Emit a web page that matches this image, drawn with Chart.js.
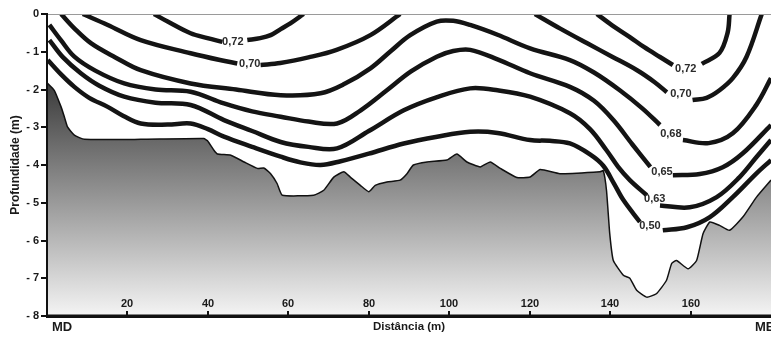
<!DOCTYPE html>
<html>
<head>
<meta charset="utf-8">
<script src="https://cdn.jsdelivr.net/npm/chart.js@4"></script>
<style>
  body { margin: 0; background: #fff; }
  #wrap { width: 771px; height: 340px; }
</style>
</head>
<body>
<div id="wrap"><canvas id="profile"></canvas></div>
<script>
// River bed (distance m, depth m)
const bed = [[0,-1.82],[1.8,-2.02],[3.5,-2.46],[4.3,-2.72],[5.1,-2.99],[6.8,-3.21],[9.3,-3.32],
  [23.3,-3.32],[39,-3.3],[39.9,-3.36],[41.5,-3.61],[42.4,-3.71],[45.7,-3.74],[49,-3.92],
  [52.3,-4.09],[53.9,-4.08],[55.6,-4.23],[57.2,-4.49],[58.5,-4.8],[66.3,-4.8],[68.8,-4.67],
  [71.3,-4.32],[73.8,-4.18],[75.4,-4.32],[77.9,-4.54],[80,-4.71],[81.6,-4.54],[84.5,-4.45],
  [87.8,-4.4],[89.5,-4.23],[91.1,-4.0],[94.5,-3.92],[99.4,-3.87],[101.9,-3.71],[104.4,-3.92],
  [107.7,-4.05],[110.2,-3.92],[112.7,-4.09],[116.8,-4.33],[120.1,-4.32],[122.6,-4.12],
  [127.5,-4.23],[137.5,-4.18],[138.3,-4.15],[139.1,-4.67],[139.9,-5.81],[140.8,-6.53],
  [143.3,-6.92],[144.9,-7.0],[146.6,-7.32],[149.1,-7.5],[151.5,-7.41],[154,-7.06],[155.3,-6.61],
  [156.5,-6.53],[159.4,-6.75],[161.5,-6.53],[163.1,-5.82],[164.8,-5.51],[167.2,-5.6],
  [169.7,-5.73],[173,-5.38],[176.4,-4.85],[180,-4.4]];

// Isolines; null = break where the label sits
const c72Left = [[26.6,0],[30,-0.2],[35.7,-0.51],[39.9,-0.64],[43.6,-0.74], null,
  [49.8,-0.69],[53,-0.64],[55.6,-0.56],[58.1,-0.4],[60.5,-0.25],[63.8,0]];
const c70Left = [[8.9,0],[15.1,-0.29],[23.3,-0.69],[35.7,-1.04],[43,-1.22],[47.3,-1.31], null,
  [53.1,-1.35],[58,-1.3],[65,-1.15],[72,-0.95],[80.4,-0.56],[87.8,0]];
const c72Right = [[136.7,0],[140.5,-0.3],[144.9,-0.61],[148.5,-0.88],[152.4,-1.14],[155.6,-1.35], null,
  [162.8,-1.32],[167.2,-1.03],[169.2,-0.5],[169.7,0]];
const c70Right = [[121.3,0],[127.5,-0.38],[134.2,-0.77],[140.5,-1.13],[146.7,-1.49],[151,-1.8],[154.1,-2.07], null,
  [160.5,-2.28],[164,-2.22],[167.2,-2.02],[170.5,-1.7],[173.9,-1.14],[177.7,0]];
const c68 = [[3.5,0],[6.8,-0.38],[11,-0.78],[17,-1.15],[23.3,-1.49],[35.7,-1.84],[47,-2.0],
  [58.1,-2.15],[68,-2.1],[74,-1.85],[80.4,-1.44],[85.5,-0.98],[90.3,-0.56],[96.9,-0.2],
  [101,-0.18],[105.2,-0.29],[112,-0.55],[120.1,-0.91],[130,-1.22],[136,-1.55],[142.4,-2.02],
  [148,-2.5],[152.4,-2.94], null, [158.1,-3.34],[164.5,-3.42],[170.5,-3.16],[176.4,-2.4],[180,-1.7]];
const c65 = [[0.6,-0.29],[3.5,-0.7],[6.8,-1.13],[12,-1.5],[19.2,-1.84],[27,-2.0],[35.7,-2.06],
  [44,-2.37],[51,-2.58],[58.1,-2.72],[65,-2.85],[72.1,-2.9],[78,-2.55],[84.5,-2.02],
  [90.5,-1.52],[96.9,-1.13],[101,-0.98],[105.2,-0.95],[112,-1.2],[120.1,-1.57],[130,-1.93],
  [136,-2.3],[140.8,-2.81],[145.5,-3.45],[150,-4.05], null, [155.6,-4.27],[162.3,-4.24],
  [168,-4.06],[173,-3.69],[180,-2.94]];
const c63 = [[0.6,-0.69],[4,-1.15],[8.4,-1.57],[13,-1.9],[19.2,-2.19],[27,-2.35],[35.7,-2.41],
  [44,-2.81],[51,-3.1],[58.1,-3.39],[65,-3.52],[72.1,-3.56],[80,-3.1],[88.7,-2.55],[97,-2.2],
  [105.2,-1.97],[112,-2.02],[120.1,-2.19],[130,-2.63],[135,-3.05],[139.1,-3.61],[142,-4.05],
  [144.9,-4.4],[149.1,-4.8], null, [152.4,-5.07],[159.8,-5.12],[166.5,-4.85],[172.2,-4.32],
  [176.4,-3.79],[180,-3.34]];
const c50 = [[0.2,-1.22],[3.5,-1.6],[6.8,-1.93],[10.5,-2.22],[15.1,-2.46],[19,-2.7],[23.3,-2.9],
  [30,-2.93],[35.7,-2.9],[40,-3.05],[44,-3.25],[51,-3.52],[58.1,-3.78],[63,-3.93],[68,-4.0],
  [73,-3.9],[80,-3.7],[88.7,-3.43],[97,-3.25],[105.2,-3.12],[112,-3.15],[120.1,-3.34],
  [125,-3.36],[130,-3.43],[135,-3.72],[138.3,-4.02],[141,-4.5],[143.3,-4.93],[147.4,-5.51], null,
  [153.1,-5.73],[159.1,-5.65],[164.8,-5.38],[170.5,-4.85],[176.4,-4.22],[180,-3.87]];

// Isoline labels
const labelText = ['0,72', '0,70', '0,72', '0,70', '0,68', '0,65', '0,63', '0,50'];
const labelX = [46.2, 50.4, 158.8, 157.6, 155.1, 152.9, 151.1, 149.9];
const labelY = [-0.74, -1.33, -1.46, -2.12, -3.18, -4.19, -4.91, -5.62];

// Axis ticks
const xTicks = [20, 40, 60, 80, 100, 120, 140, 160];

const FONT = "'Liberation Sans', Arial, sans-serif";

function toPoints(pairs) {
    return pairs.map((p, i) => p
        ? { x: p[0], y: p[1] }
        : { x: (pairs[i - 1][0] + pairs[i + 1][0]) / 2, y: null });
}

function isoline(pairs) {
    return {
        data: toPoints(pairs),
        showLine: true,
        borderColor: '#141414',
        borderWidth: 4.5,
        tension: 0.35,
        pointRadius: 0,
        spanGaps: false,
        fill: false,
        order: 1
    };
}

function bedGradient(context) {
    const { chart } = context;
    const { chartArea } = chart;
    if (!chartArea) return '#888';
    const y = chart.scales.y;
    const g = chart.ctx.createLinearGradient(0, y.getPixelForValue(-1.8), 0, chartArea.bottom);
    g.addColorStop(0, '#3a3a3a');
    g.addColorStop(1, '#f4f4f4');
    return g;
}

// Text and marks that sit inside the plot
const overlay = {
    id: 'overlay',
    afterDatasetsDraw(chart) {
        const { ctx, chartArea: a, scales: { x, y } } = chart;
        ctx.save();

        ctx.strokeStyle = '#9a9a9a';
        ctx.lineWidth = 1;
        ctx.beginPath();
        ctx.moveTo(a.left, a.top + 0.5);
        ctx.lineTo(a.right, a.top + 0.5);
        ctx.stroke();

        ctx.strokeStyle = '#111';
        ctx.lineWidth = 3;
        ctx.beginPath();
        ctx.moveTo(a.left - 1, a.bottom);
        ctx.lineTo(a.right, a.bottom);
        ctx.stroke();
        ctx.lineWidth = 2;
        ctx.beginPath();
        ctx.moveTo(a.left, a.top);
        ctx.lineTo(a.left, a.bottom);
        ctx.stroke();

        ctx.fillStyle = '#1a1a1a';
        ctx.font = 'bold 11px ' + FONT;
        ctx.textAlign = 'center';
        ctx.textBaseline = 'middle';
        xTicks.forEach(v => {
            const px = Math.round(x.getPixelForValue(v));
            ctx.lineWidth = 2;
            ctx.beginPath();
            ctx.moveTo(px, a.bottom - 5);
            ctx.lineTo(px, a.bottom);
            ctx.stroke();
            ctx.fillText(String(v), px, a.bottom - 12);
        });

        ctx.font = 'bold 13px ' + FONT;
        ctx.textAlign = 'left';
        ctx.fillText('MD', a.left + 5, a.bottom + 11);
        ctx.fillText('ME', a.right - 16, a.bottom + 11);

        ctx.font = 'bold 11px ' + FONT;
        ctx.textAlign = 'center';
        ctx.fillStyle = '#2a2a2a';
        labelText.forEach((t, i) => {
            ctx.fillText(t, x.getPixelForValue(labelX[i]), y.getPixelForValue(labelY[i]));
        });

        ctx.restore();
    }
};

new Chart(document.getElementById('profile'), {
    type: 'scatter',
    data: {
        datasets: [
            {
                data: toPoints(bed),
                showLine: true,
                borderColor: '#111',
                borderWidth: 1.5,
                tension: 0.15,
                pointRadius: 0,
                fill: 'start',
                backgroundColor: bedGradient,
                order: 5
            },
            isoline(c72Left),
            isoline(c70Left),
            isoline(c72Right),
            isoline(c70Right),
            isoline(c68),
            isoline(c65),
            isoline(c63),
            isoline(c50)
        ]
    },
    options: {
        responsive: true,
        maintainAspectRatio: false,
        animation: false,
        layout: { padding: { top: 14, right: 0, bottom: 0, left: 0 } },
        plugins: {
            legend: { display: false },
            tooltip: { enabled: false }
        },
        scales: {
            x: {
                type: 'linear',
                min: 0,
                max: 180,
                ticks: { display: false },
                grid: { display: false },
                border: { display: true, color: '#111', width: 3 },
                title: {
                    display: true,
                    text: 'Distância (m)',
                    color: '#1a1a1a',
                    font: { family: FONT, size: 11.5, weight: 'bold' },
                    padding: { top: 0, bottom: 6 }
                },
                afterFit(scale) { scale.height = 24; }
            },
            y: {
                min: -8,
                max: 0,
                ticks: {
                    stepSize: 1,
                    padding: 2,
                    crossAlign: 'near',
                    color: '#1a1a1a',
                    font: { family: FONT, size: 11, weight: 'bold' },
                    callback: v => v === 0 ? '0' : '- ' + Math.abs(v)
                },
                grid: {
                    drawOnChartArea: false,
                    drawTicks: true,
                    tickLength: 6,
                    color: '#111',
                    lineWidth: 2
                },
                border: { display: true, color: '#111', width: 2 },
                title: {
                    display: true,
                    text: 'Profundidade (m)',
                    color: '#1a1a1a',
                    font: { family: FONT, size: 12, weight: 'bold' },
                    padding: { top: 8, bottom: 0 }
                },
                afterFit(scale) { scale.width = 47; }
            }
        }
    },
    plugins: [overlay]
});
</script>
</body>
</html>
